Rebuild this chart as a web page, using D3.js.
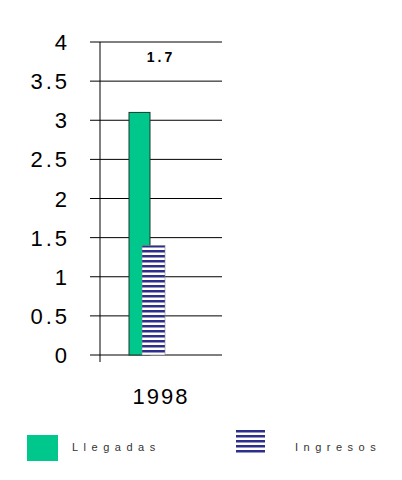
<!DOCTYPE html>
<html><head><meta charset="utf-8">
<script src="https://cdn.jsdelivr.net/npm/d3@7"></script>
<style>body{margin:0;background:#fff}</style>
</head><body>
<script>
const categories = ['1998'];
const llegadas = [3.1];
const ingresos = [1.4];
const yTicks = [0, 0.5, 1, 1.5, 2, 2.5, 3, 3.5, 4];
const tickLabels = ['0', '0.5', '1', '1.5', '2', '2.5', '3', '3.5', '4'];
const note = '1.7';

const svg = d3.select('body').append('svg').attr('width', 402).attr('height', 480);
const defs = svg.append('defs');
const pat = defs.append('pattern').attr('id', 'stripes').attr('patternUnits', 'userSpaceOnUse')
  .attr('width', 8).attr('height', 5);
pat.append('rect').attr('width', 8).attr('height', 5).attr('fill', '#fff');
pat.append('rect').attr('y', 0).attr('width', 8).attr('height', 2.5).attr('fill', '#2e2e8c');

const y = d3.scaleLinear().domain([0, 4]).range([355, 42]);
const x = d3.scaleBand().domain(categories).range([100, 222]);

// gridlines
svg.selectAll('.grid').data(yTicks).enter().append('line')
  .attr('x1', 90).attr('x2', 222)
  .attr('y1', d => y(d)).attr('y2', d => y(d))
  .attr('stroke', '#000').attr('stroke-width', 1);
svg.append('line').attr('x1', 100).attr('x2', 100).attr('y1', 42).attr('y2', 362)
  .attr('stroke', '#000');

svg.selectAll('.tl').data(yTicks).enter().append('text')
  .attr('x', 70).attr('y', d => y(d) + 8).attr('text-anchor', 'end')
  .attr('font-family', 'Liberation Sans, Arial').attr('font-size', 22).attr('letter-spacing', 3)
  .text((d, i) => tickLabels[i]);

const cx = x('1998');
svg.selectAll('.lleg').data(llegadas).enter().append('rect')
  .attr('x', cx + 29).attr('width', 21)
  .attr('y', d => y(d)).attr('height', d => y(0) - y(d))
  .attr('fill', '#00c78c').attr('stroke', '#1a3a2a');
svg.selectAll('.ing').data(ingresos).enter().append('rect')
  .attr('x', cx + 42).attr('width', 23)
  .attr('y', d => y(d)).attr('height', d => y(0) - y(d))
  .attr('fill', 'url(#stripes)').attr('stroke', '#888').attr('stroke-width', 0.6);

svg.append('text').attr('x', 161).attr('y', 62).attr('text-anchor', 'middle')
  .attr('font-family', 'Liberation Sans, Arial').attr('font-weight', 'bold').attr('font-size', 14)
  .attr('letter-spacing', 3).text(note);

svg.selectAll('.cat').data(categories).enter().append('text')
  .attr('x', 161).attr('y', 404).attr('text-anchor', 'middle')
  .attr('font-family', 'Liberation Sans, Arial').attr('font-size', 22).attr('letter-spacing', 2)
  .text(d => d);

// legend
svg.append('rect').attr('x', 27).attr('y', 435).attr('width', 31).attr('height', 26).attr('fill', '#00c78c');
svg.append('rect').attr('x', 236).attr('y', 430).attr('width', 29).attr('height', 25).attr('fill', 'url(#stripes)');
svg.append('text').attr('x', 72).attr('y', 451).attr('font-family', 'Liberation Sans, Arial')
  .attr('font-size', 11).attr('letter-spacing', 5.5).attr('fill', '#333').text('Llegadas');
svg.append('text').attr('x', 295).attr('y', 451).attr('font-family', 'Liberation Sans, Arial')
  .attr('font-size', 11).attr('letter-spacing', 5.5).attr('fill', '#333').text('Ingresos');
</script>
</body></html>
